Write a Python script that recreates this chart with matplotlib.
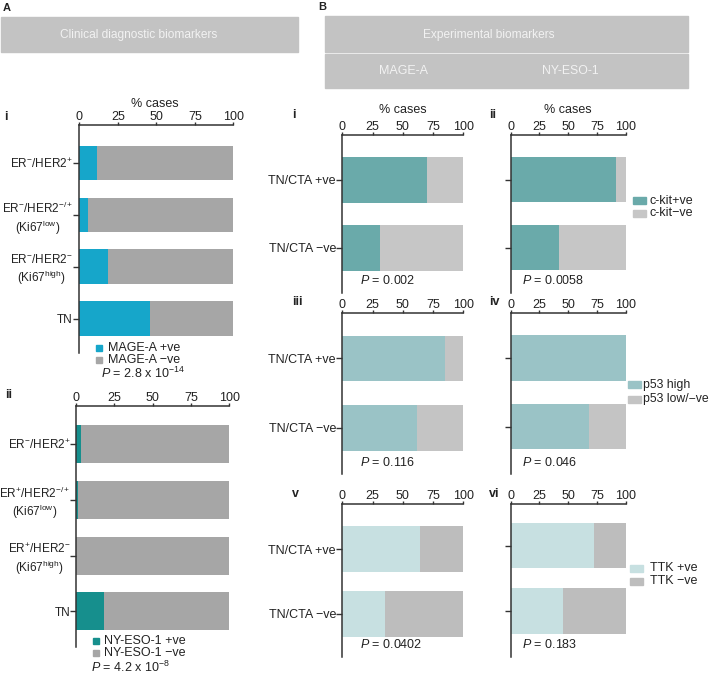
"""Stacked % bars: cancer-testis antigen expression vs clinical / experimental biomarkers."""
import matplotlib
matplotlib.use("Agg")
import matplotlib.pyplot as plt
from matplotlib.patches import Rectangle

plt.rcParams["font.family"] = "Liberation Sans"
plt.rcParams["mathtext.fontset"] = "custom"
plt.rcParams["mathtext.rm"] = "Liberation Sans"
plt.rcParams["mathtext.it"] = "Liberation Sans:italic"
plt.rcParams["mathtext.bf"] = "Liberation Sans:bold"

# ---- data (% of cases positive; the rest of each bar is the negative share) ----
A_I_GROUPS = ["ER$^{-}$/HER2$^{+}$", "ER$^{-}$/HER2$^{-/+}$\n(Ki67$^{\\mathrm{low}}$)",
              "ER$^{-}$/HER2$^{-}$\n(Ki67$^{\\mathrm{high}}$)", "TN"]
A_II_GROUPS = ["ER$^{-}$/HER2$^{+}$", "ER$^{+}$/HER2$^{-/+}$\n(Ki67$^{\\mathrm{low}}$)",
               "ER$^{+}$/HER2$^{-}$\n(Ki67$^{\\mathrm{high}}$)", "TN"]
MAGE_A_POS = [11.3, 5.8, 18.6, 45.7]
NY_ESO_POS = [3.5, 1.0, 0.0, 18.5]
B_GROUPS = ["TN/CTA +ve", "TN/CTA \u2212ve"]
CKIT_MAGE = [70.0, 31.1]
CKIT_NYESO = [91.0, 42.1]
P53_MAGE = [84.9, 61.5]
P53_NYESO = [100.0, 67.6]
TTK_MAGE = [64.2, 35.2]
TTK_NYESO = [72.6, 45.8]
XTICKS = [0, 25, 50, 75, 100]
P_VALUES = {"Ai": "$P$ = 2.8 x 10$^{-14}$", "Aii": "$P$ = 4.2 x 10$^{-8}$",
            "Bi": "$P$ = 0.002", "Bii": "$P$ = 0.0058", "Biii": "$P$ = 0.116",
            "Biv": "$P$ = 0.046", "Bv": "$P$ = 0.0402", "Bvi": "$P$ = 0.183"}

W, H = 709, 674
TXT = "#222222"
SPINE = "#333333"
fig = plt.figure(figsize=(W / 100, H / 100), dpi=100)


def rect(l, t, r, b):
    return [l / W, 1 - b / H, (r - l) / W, (b - t) / H]


def ftext(x, y, s, **kw):
    kw.setdefault("color", TXT)
    kw.setdefault("va", "center")
    fig.text(x / W, 1 - y / H, s, **kw)


def fbox(l, t, r, b, color):
    fig.patches.append(Rectangle((l / W, 1 - b / H), (r - l) / W, (b - t) / H,
                                 transform=fig.transFigure, color=color, zorder=0))


def panel(box, centers, bar_h, pos, c_pos, c_neg, labels=None, ysize=9, ypad=0.6):
    l, t, r, b = box
    ax = fig.add_axes(rect(l, t, r, b))
    neg = [100 - v for v in pos]
    ax.barh(centers, pos, height=bar_h, color=c_pos, linewidth=0)
    ax.barh(centers, neg, left=pos, height=bar_h, color=c_neg, linewidth=0)
    ax.set_xlim(0, 100)
    ax.set_ylim(b, t)                      # y measured in figure pixels, top at t
    ax.xaxis.tick_top()
    ax.set_xticks(XTICKS)
    ax.tick_params(axis="x", direction="out", length=2.5, width=1, pad=-1.2,
                   labelsize=9, colors=SPINE, labelcolor=TXT)
    ax.set_yticks(centers)
    if labels is None:
        ax.set_yticklabels([])
    else:
        ax.set_yticklabels(labels, multialignment="center")
    ax.tick_params(axis="y", direction="out", length=4, width=1, pad=ypad,
                   labelsize=ysize, colors=SPINE, labelcolor=TXT)
    for s in ("right", "bottom"):
        ax.spines[s].set_visible(False)
    for s in ("top", "left"):
        ax.spines[s].set_linewidth(1.1)
        ax.spines[s].set_color(SPINE)
    ax.set_facecolor("none")
    return ax


def legend(x_sq, x_txt, ys, colors, names, w=7, h=7, size=9):
    for y, c, n in zip(ys, colors, names):
        fbox(x_sq, y - h / 2, x_sq + w, y + h / 2, c)
        ftext(x_txt, y, n, fontsize=size, ha="left")


# ---- headers ----
HEAD = "#c3c3c3"
HEAD_TXT = "#f2f2f2"
ftext(3, 8, "A", fontsize=8, fontweight="bold", ha="left")
ftext(318, 7, "B", fontsize=8, fontweight="bold", ha="left")
fbox(1, 17, 298, 52, HEAD)
ftext(139, 35, "Clinical diagnostic biomarkers", fontsize=8.6, ha="center", color=HEAD_TXT)
fbox(325, 16, 688, 52, HEAD)
fbox(325, 54, 688, 88, HEAD)
ftext(489, 35, "Experimental biomarkers", fontsize=8.6, ha="center", color=HEAD_TXT)
ftext(404, 71, "MAGE-A", fontsize=9, ha="center", color=HEAD_TXT)
ftext(570, 71, "NY-ESO-1", fontsize=8.8, ha="center", color=HEAD_TXT)

# ---- panel A ----
A_GREY = "#a6a6a6"
panel((79.3, 125, 233.3, 353), [163, 215, 266.5, 318.5], 34.5, MAGE_A_POS,
      "#16a6ca", A_GREY, A_I_GROUPS, ysize=8.5)
ftext(155, 104, "% cases", fontsize=9, ha="center")
ftext(4, 117, "i", fontsize=9, fontweight="bold", ha="left")
legend(96, 108, [348, 360], ["#16a6ca", A_GREY], ["MAGE-A +ve", "MAGE-A \u2212ve"], w=6, h=6)
ftext(101, 373, P_VALUES["Ai"], fontsize=9, ha="left")

panel((76, 406, 229.3, 647), [444, 499.5, 555.5, 611], 38, NY_ESO_POS,
      "#168f8d", A_GREY, A_II_GROUPS, ysize=8.5, ypad=0.1)
ftext(5, 395, "ii", fontsize=9, fontweight="bold", ha="left")
legend(93, 104, [641, 653], ["#168f8d", A_GREY], ["NY-ESO-1 +ve", "NY-ESO-1 \u2212ve"], w=6, h=6)
ftext(91, 667, P_VALUES["Aii"], fontsize=9, ha="left")

# ---- panel B ----
rows = [
    ("i", "ii", (135, 293), ([180, 248], [179.5, 247.5]), CKIT_MAGE, CKIT_NYESO,
     "#6aaaaa", "#c6c6c6", ["c-kit+ve", "c-kit\u2212ve"], (633, 650, [200.5, 213]),
     ("Bi", "Bii"), 280, 115),
    ("iii", "iv", (313, 474), ([358.5, 428], [358, 426.7]), P53_MAGE, P53_NYESO,
     "#9ac3c6", "#c4c4c4", ["p53 high", "p53 low/\u2212ve"], (628, 643, [385, 399]),
     ("Biii", "Biv"), 463, 302),
    ("v", "vi", (504, 657), ([549, 614], [545.5, 611]), TTK_MAGE, TTK_NYESO,
     "#c7e0e1", "#bdbdbd", ["TTK +ve", "TTK \u2212ve"], (630, 650, [568, 581]),
     ("Bv", "Bvi"), 645, 494),
]
for (n1, n2, (t, b), (c1, c2), v1, v2, cp, cn, lg, (lx, ltx, ly), (p1, p2), py, ny) in rows:
    panel((342.3, t, 463.3, b), c1, 45.5, v1, cp, cn, B_GROUPS)
    panel((510.5, t, 626, b), c2, 45.5, v2, cp, cn)
    ftext(292, ny, n1, fontsize=9, fontweight="bold", ha="left")
    ftext(489, ny, n2, fontsize=9, fontweight="bold", ha="left")
    legend(lx, ltx, ly, [cp, cn], lg, w=13, h=7, size=8.8 if n1 == "iii" else 9)
    ftext(360, py, P_VALUES[p1], fontsize=9, ha="left")
    ftext(522, py, P_VALUES[p2], fontsize=9, ha="left")

ftext(403, 110, "% cases", fontsize=9, ha="center")
ftext(568, 110, "% cases", fontsize=9, ha="center")

fig.savefig("out.png", dpi=100)
